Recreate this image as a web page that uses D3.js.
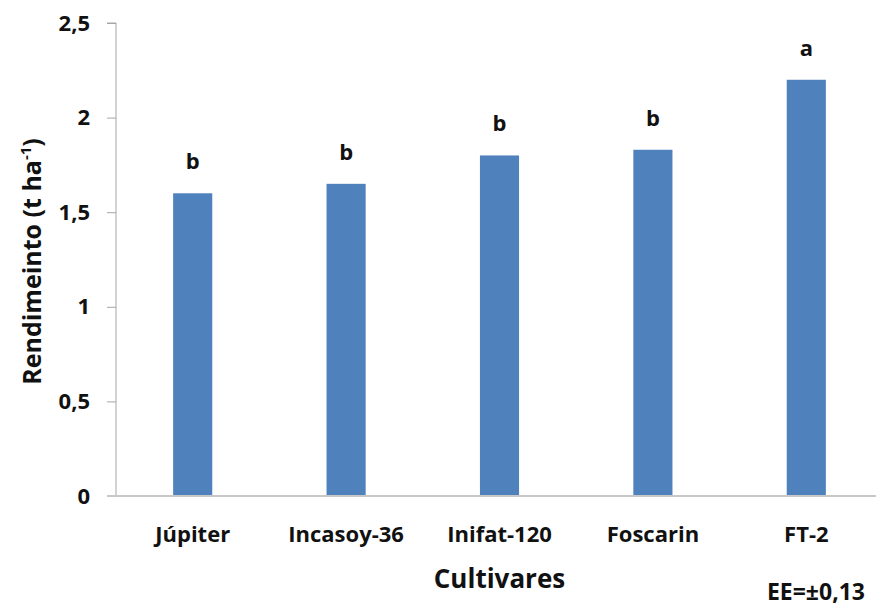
<!DOCTYPE html>
<html>
<head>
<meta charset="utf-8">
<script src="https://cdn.jsdelivr.net/npm/d3@7"></script>
<style>
  body { margin: 0; background: #fff; }
  svg text { font-family: "Open Sans", Lato, sans-serif; font-weight: bold; fill: #111; }
</style>
</head>
<body>
<svg id="chart"></svg>
<script>
const cultivares = ["Júpiter", "Incasoy-36", "Inifat-120", "Foscarin", "FT-2"];
const rendimiento = [1.6, 1.65, 1.8, 1.83, 2.2];
const letras = ["b", "b", "b", "b", "a"];
const yTicks = [0, 0.5, 1, 1.5, 2, 2.5];

const width = 876, height = 607;
const margin = {top: 23, right: -7, bottom: 111, left: 116};

const svg = d3.select("#chart")
    .attr("width", width)
    .attr("height", height);

const x = d3.scaleBand()
    .domain(cultivares)
    .range([margin.left, width - margin.right])
    .paddingInner(0.745)
    .paddingOuter(0.3725);

const y = d3.scaleLinear()
    .domain([0, 2.5])
    .range([height - margin.bottom, margin.top]);

const fmt = d => String(d).replace(".", ",");

// y axis
const yAxis = svg.append("g")
    .attr("transform", `translate(${margin.left},0)`)
    .call(d3.axisLeft(y).tickValues(yTicks).tickFormat(fmt).tickSize(9).tickPadding(17));
yAxis.select(".domain").attr("stroke", "#a6a6a6").attr("d", `M-9,${y(2.5)}H0V${y(0)}`);
yAxis.selectAll(".tick line").attr("stroke", "#a6a6a6");
yAxis.selectAll(".tick text").style("font-size", "22px");

// bars
svg.selectAll(".bar")
    .data(cultivares)
    .enter().append("rect")
    .attr("class", "bar")
    .attr("x", d => x(d))
    .attr("y", (d, i) => y(rendimiento[i]))
    .attr("width", x.bandwidth())
    .attr("height", (d, i) => y(0) - y(rendimiento[i]))
    .attr("fill", "#4f81bd");

// letters above bars
svg.selectAll(".letra")
    .data(cultivares)
    .enter().append("text")
    .attr("class", "letra")
    .attr("x", d => x(d) + x.bandwidth() / 2)
    .attr("y", (d, i) => y(rendimiento[i]) - 24)
    .attr("text-anchor", "middle")
    .style("font-size", "22px")
    .text((d, i) => letras[i]);

// x axis
const xAxis = svg.append("g")
    .attr("transform", `translate(0,${y(0)})`)
    .call(d3.axisBottom(x).tickSize(0));
xAxis.select(".domain").attr("stroke", "#c8c8c8").attr("stroke-width", 2)
    .attr("d", `M${margin.left - 9},0H${width}`);
xAxis.selectAll(".tick text")
    .attr("y", 46)
    .attr("dy", 0)
    .style("font-size", "22px");

// axis titles
svg.append("text")
    .attr("transform", `translate(41,${(y(0) + y(2.5)) / 2 + 2}) rotate(-90)`)
    .attr("text-anchor", "middle")
    .style("font-size", "25px")
    .text("Rendimeinto (t ha")
    .append("tspan").attr("baseline-shift", "super").style("font-size", "15px").text("-1")
    .select(function() { return this.parentNode; })
    .append("tspan").text(")");

svg.append("text")
    .attr("x", x("Inifat-120") + x.bandwidth() / 2)
    .attr("y", 588)
    .attr("text-anchor", "middle")
    .style("font-size", "26px")
    .text("Cultivares");

svg.append("text")
    .attr("x", 865)
    .attr("y", 600)
    .attr("text-anchor", "end")
    .style("font-size", "23px")
    .text("EE=±0,13");
</script>
</body>
</html>
